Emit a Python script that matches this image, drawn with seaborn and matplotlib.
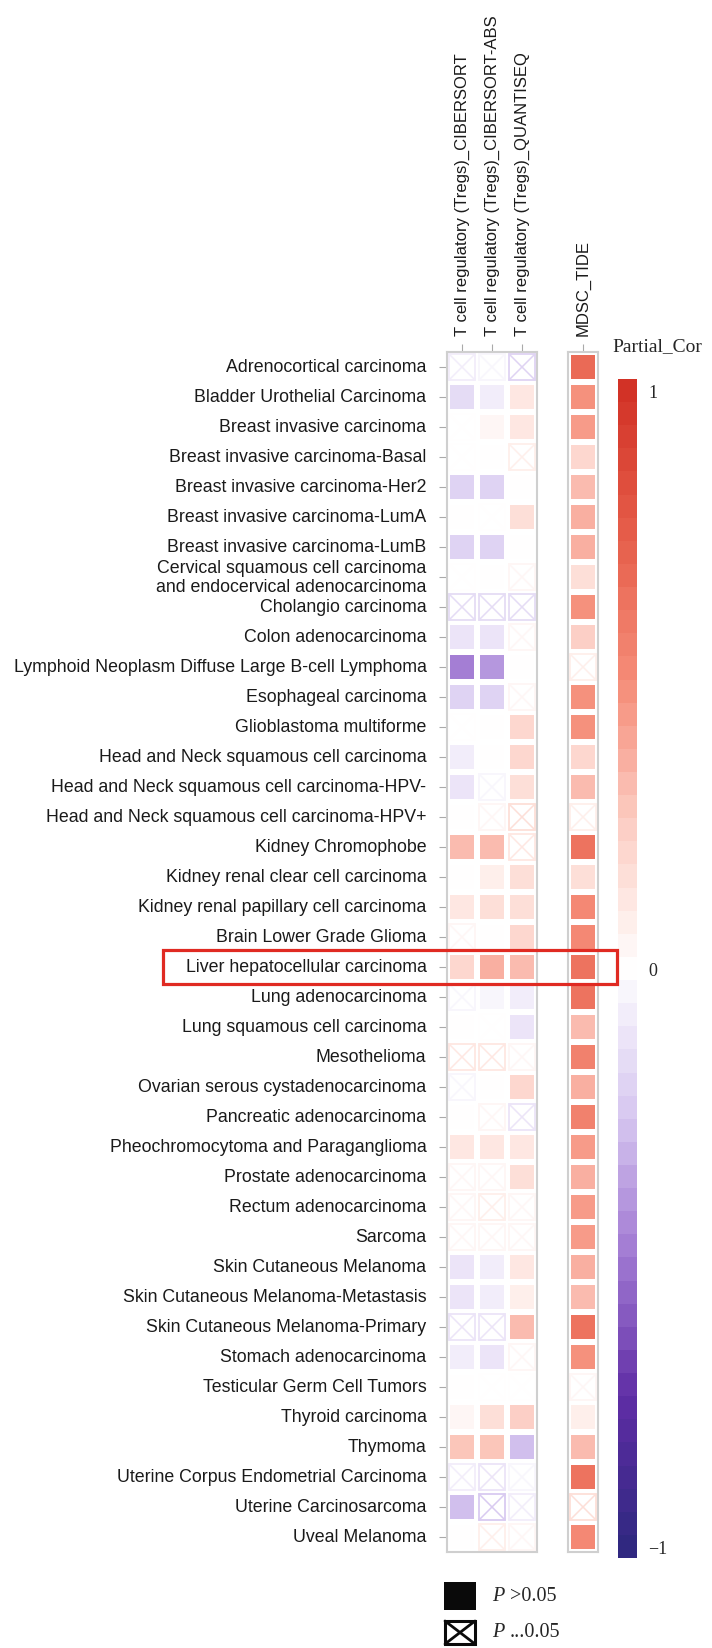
import numpy as np
import pandas as pd
import matplotlib
matplotlib.use("Agg")
import matplotlib.pyplot as plt
import seaborn as sns
from matplotlib.colors import LinearSegmentedColormap, ListedColormap, Normalize
from matplotlib.patches import Rectangle
from matplotlib.lines import Line2D
import matplotlib.transforms as mtransforms

# ---------------- data ----------------
cancers = [
    "Adrenocortical carcinoma",
    "Bladder Urothelial Carcinoma",
    "Breast invasive carcinoma",
    "Breast invasive carcinoma-Basal",
    "Breast invasive carcinoma-Her2",
    "Breast invasive carcinoma-LumA",
    "Breast invasive carcinoma-LumB",
    "Cervical squamous cell carcinoma\nand endocervical adenocarcinoma",
    "Cholangio carcinoma",
    "Colon adenocarcinoma",
    "Lymphoid Neoplasm Diffuse Large B-cell Lymphoma",
    "Esophageal carcinoma",
    "Glioblastoma multiforme",
    "Head and Neck squamous cell carcinoma",
    "Head and Neck squamous cell carcinoma-HPV-",
    "Head and Neck squamous cell carcinoma-HPV+",
    "Kidney Chromophobe",
    "Kidney renal clear cell carcinoma",
    "Kidney renal papillary cell carcinoma",
    "Brain Lower Grade Glioma",
    "Liver hepatocellular carcinoma",
    "Lung adenocarcinoma",
    "Lung squamous cell carcinoma",
    "Mesothelioma",
    "Ovarian serous cystadenocarcinoma",
    "Pancreatic adenocarcinoma",
    "Pheochromocytoma and Paraganglioma",
    "Prostate adenocarcinoma",
    "Rectum adenocarcinoma",
    "Sarcoma",
    "Skin Cutaneous Melanoma",
    "Skin Cutaneous Melanoma-Metastasis",
    "Skin Cutaneous Melanoma-Primary",
    "Stomach adenocarcinoma",
    "Testicular Germ Cell Tumors",
    "Thyroid carcinoma",
    "Thymoma",
    "Uterine Corpus Endometrial Carcinoma",
    "Uterine Carcinosarcoma",
    "Uveal Melanoma",
]

treg_methods = [
    "T cell regulatory (Tregs)_CIBERSORT",
    "T cell regulatory (Tregs)_CIBERSORT-ABS",
    "T cell regulatory (Tregs)_QUANTISEQ",
]
mdsc_method = "MDSC_TIDE"

cor_cibersort = [-0.10, -0.15, 0.00, 0.01, -0.22, 0.00, -0.20, 0.01, -0.18, -0.12,
                 -0.50, -0.20, 0.01, -0.07, -0.12, 0.00, 0.30, 0.00, 0.13, 0.02,
                 0.18, -0.04, 0.00, 0.10, -0.06, 0.00, 0.12, 0.02, 0.04, 0.05,
                 -0.12, -0.14, -0.12, -0.08, 0.00, 0.05, 0.26, -0.10, -0.30, 0.00]
cor_cibersort_abs = [-0.05, -0.09, 0.04, 0.00, -0.22, 0.01, -0.20, 0.00, -0.16, -0.14,
                     -0.40, -0.20, 0.00, 0.00, -0.06, 0.02, 0.30, 0.07, 0.16, 0.00,
                     0.36, -0.06, 0.01, 0.12, 0.00, 0.02, 0.12, 0.02, 0.08, 0.05,
                     -0.07, -0.08, -0.12, -0.14, 0.01, 0.15, 0.28, -0.14, -0.24, 0.07]
cor_quantiseq = [-0.20, 0.12, 0.12, 0.07, 0.00, 0.15, 0.00, 0.02, -0.16, 0.03,
                 0.00, 0.04, 0.20, 0.20, 0.14, 0.15, 0.10, 0.15, 0.15, 0.20,
                 0.32, -0.10, -0.12, 0.02, 0.22, -0.12, 0.12, 0.15, 0.02, 0.03,
                 0.12, 0.07, 0.30, 0.03, 0.01, 0.25, -0.28, -0.05, -0.10, 0.02]
cor_mdsc = [0.68, 0.48, 0.45, 0.22, 0.32, 0.35, 0.36, 0.15, 0.48, 0.25,
            0.08, 0.48, 0.48, 0.22, 0.32, 0.07, 0.62, 0.17, 0.50, 0.52,
            0.64, 0.65, 0.33, 0.57, 0.36, 0.57, 0.42, 0.35, 0.45, 0.45,
            0.35, 0.33, 0.62, 0.48, 0.02, 0.07, 0.33, 0.62, 0.15, 0.52]

# 1 = P <= 0.05 (filled square), 0 = not significant (crossed square)
sig_cibersort = [0, 1, 0, 0, 1, 1, 1, 0, 0, 1,
                 1, 1, 0, 1, 1, 1, 1, 1, 1, 0,
                 1, 0, 1, 0, 0, 1, 1, 0, 0, 0,
                 1, 1, 0, 1, 1, 1, 1, 0, 1, 1]
sig_cibersort_abs = [0, 1, 1, 1, 1, 0, 1, 1, 0, 1,
                     1, 1, 1, 1, 0, 0, 1, 1, 1, 1,
                     1, 1, 0, 0, 1, 0, 1, 0, 0, 0,
                     1, 1, 0, 1, 0, 1, 1, 0, 0, 0]
sig_quantiseq = [0, 1, 1, 0, 1, 1, 1, 0, 0, 0,
                 1, 0, 1, 1, 1, 0, 0, 1, 1, 1,
                 1, 1, 1, 0, 1, 0, 1, 1, 0, 0,
                 1, 1, 1, 0, 0, 1, 1, 0, 0, 0]
sig_mdsc = [1, 1, 1, 1, 1, 1, 1, 1, 1, 1,
            0, 1, 1, 1, 1, 0, 1, 1, 1, 1,
            1, 1, 1, 1, 1, 1, 1, 1, 1, 1,
            1, 1, 1, 1, 0, 1, 1, 1, 0, 1]

highlight = "Liver hepatocellular carcinoma"

# ---------------- style ----------------
sns.set_theme(style="white")
plt.rcParams["font.family"] = ["Liberation Sans", "DejaVu Sans"]

W, H = 712, 1649
fig = plt.figure(figsize=(W / 100, H / 100), dpi=100)
fig.patch.set_facecolor("white")


def fax(x0, y0, x1, y1):
    return fig.add_axes([x0 / W, 1 - y1 / H, (x1 - x0) / W, (y1 - y0) / H])


ax1 = fax(447, 353, 537, 1553)
ax2 = fax(568, 353, 598, 1553)
cax = fax(618, 380, 637, 1559)
for a in (ax1, ax2):
    a.set_facecolor("none")

# colormap: purple - white - red, 51 discrete steps
base = LinearSegmentedColormap.from_list(
    "pc",
    [(0.0, (48/255, 40/255, 128/255)),
     (0.125, (95/255, 45/255, 165/255)),
     (0.25, (160/255, 120/255, 210/255)),
     (0.375, (215/255, 200/255, 240/255)),
     (0.5, (1, 1, 1)),
     (0.625, (252/255, 205/255, 195/255)),
     (0.75, (245/255, 140/255, 120/255)),
     (0.875, (230/255, 95/255, 75/255)),
     (1.0, (210/255, 50/255, 38/255))])
nsteps = 51
cmap = ListedColormap(base(np.linspace(0, 1, nsteps)))
vmin, vmax = -1.02, 1.02
norm = Normalize(vmin, vmax)

df1 = pd.DataFrame({treg_methods[0]: cor_cibersort,
                    treg_methods[1]: cor_cibersort_abs,
                    treg_methods[2]: cor_quantiseq}, index=cancers)
sig1 = pd.DataFrame({treg_methods[0]: sig_cibersort,
                     treg_methods[1]: sig_cibersort_abs,
                     treg_methods[2]: sig_quantiseq}, index=cancers)
df2 = pd.DataFrame({mdsc_method: cor_mdsc}, index=cancers)
sig2 = pd.DataFrame({mdsc_method: sig_mdsc}, index=cancers)

sns.heatmap(df1, mask=(sig1 == 0), cmap=cmap, vmin=vmin, vmax=vmax,
            linewidths=2.9, linecolor="white", ax=ax1, cbar=True, cbar_ax=cax,
            xticklabels=True, yticklabels=True)
sns.heatmap(df2, mask=(sig2 == 0), cmap=cmap, vmin=vmin, vmax=vmax,
            linewidths=2.9, linecolor="white", ax=ax2, cbar=False,
            xticklabels=True, yticklabels=False)

ins = 0.07


def draw_crosses(ax, df, sig):
    vals = df.values
    s = sig.values
    for i in range(vals.shape[0]):
        for j in range(vals.shape[1]):
            if s[i, j] == 0:
                c = cmap(norm(vals[i, j]))
                ax.add_patch(Rectangle((j + ins, i + ins), 1 - 2 * ins, 1 - 2 * ins,
                                       fill=False, ec=c, lw=1.3))
                ax.add_line(Line2D([j + ins, j + 1 - ins], [i + ins, i + 1 - ins], color=c, lw=1.1))
                ax.add_line(Line2D([j + ins, j + 1 - ins], [i + 1 - ins, i + ins], color=c, lw=1.1))


draw_crosses(ax1, df1, sig1)
draw_crosses(ax2, df2, sig2)

for a in (ax1, ax2):
    for sp in a.spines.values():
        sp.set_visible(True)
        sp.set_color("#cfcfcf")
        sp.set_linewidth(1.5)
    a.xaxis.tick_top()
    a.tick_params(axis="x", top=True, bottom=False, length=5.8, width=0.8,
                  color="#aaaaaa", pad=6.5, labelsize=12, labelcolor="#1a1a1a")
    for t in a.get_xticklabels():
        t.set_rotation(90)
        t.set_ha("center")
        t.set_va("bottom")

ax1.tick_params(axis="y", left=True, length=5.8, width=0.8, color="#aaaaaa",
                pad=9, labelsize=12.8, labelcolor="#1a1a1a")
for t in ax1.get_yticklabels():
    t.set_rotation(0)
    t.set_ha("right")
    t.set_va("center")
    t.set_multialignment("right")
ax2.tick_params(axis="y", left=False)
ax1.set_xlabel("")
ax1.set_ylabel("")
ax2.set_xlabel("")
ax2.set_ylabel("")

# colorbar
cbar = ax1.collections[0].colorbar
cbar.outline.set_visible(False)
cbar.set_ticks([1, 0, -1])
cbar.set_ticklabels(["1", "0", "\u22121"])
cax.tick_params(length=0, pad=8, labelsize=13)
for t in cax.get_yticklabels():
    t.set_family(["Liberation Serif", "DejaVu Serif"])

fig.text(612 / W, 1 - 347 / H, "Partial_Cor", fontsize=14,
         family=["Liberation Serif", "DejaVu Serif"], ha="left", va="center")

# highlight box around liver row
ri = cancers.index(highlight)
tr = mtransforms.blended_transform_factory(fig.transFigure, ax1.transData)
fig.add_artist(Rectangle((163 / W, ri - 0.07), (617 - 163) / W, 1.14, transform=tr,
                         fill=False, ec="#e02a22", lw=2.3, zorder=5))

# legend
fig.add_artist(Rectangle((444 / W, 1 - 1611 / H), 32 / W, 28 / H,
                         transform=fig.transFigure, fc="#0a0a0a", ec="#0a0a0a", lw=0))
bx0, by0, bw, bh = 445 / W, 1 - 1645 / H, 30 / W, 23 / H
fig.add_artist(Rectangle((bx0, by0), bw, bh, transform=fig.transFigure,
                         fill=False, ec="#0a0a0a", lw=2.2))
fig.add_artist(Line2D([bx0, bx0 + bw], [by0, by0 + bh], transform=fig.transFigure,
                      color="#0a0a0a", lw=2.0))
fig.add_artist(Line2D([bx0, bx0 + bw], [by0 + bh, by0], transform=fig.transFigure,
                      color="#0a0a0a", lw=2.0))
serif = ["Liberation Serif", "DejaVu Serif"]
fig.text(492 / W, 1 - 1597 / H, "P", fontsize=14.5, style="italic", family=serif, va="center")
fig.text(510 / W, 1 - 1597 / H, ">0.05", fontsize=14.5, family=serif, va="center")
fig.text(492 / W, 1 - 1633 / H, "P", fontsize=14.5, style="italic", family=serif, va="center")
fig.text(510 / W, 1 - 1633 / H, "...0.05", fontsize=14.5, family=serif, va="center")

fig.savefig("out.png", dpi=100, facecolor="white")
